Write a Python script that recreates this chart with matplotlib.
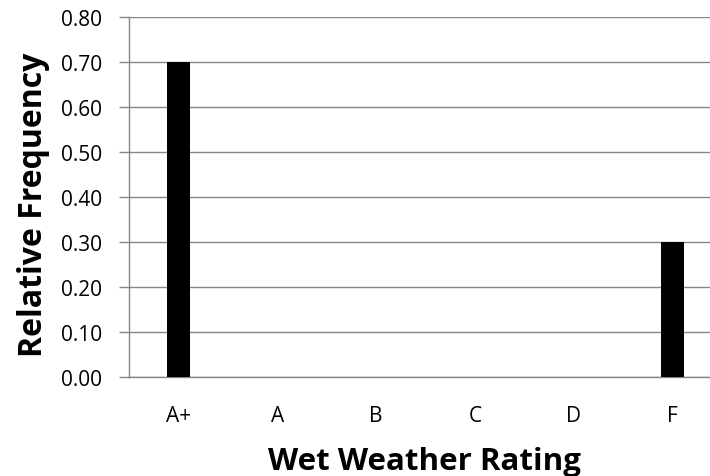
import matplotlib
matplotlib.use("Agg")
import matplotlib.pyplot as plt

categories = ["A+", "A", "B", "C", "D", "F"]
values = [0.70, 0.0, 0.0, 0.0, 0.0, 0.30]
yticks = [0.0, 0.1, 0.2, 0.3, 0.4, 0.5, 0.6, 0.7, 0.8]

plt.rcParams['font.family'] = ['Open Sans', 'DejaVu Sans']
fig = plt.figure(figsize=(7.10, 4.77), dpi=100)
ax = fig.add_axes([129/710, 1-378/477, 593/710, 360/477])

x = list(range(len(categories)))
ax.bar(x, values, width=0.24, color="black", zorder=3)
ax.set_xlim(-0.5, len(categories) - 0.5)
ax.set_ylim(0, 0.8)
ax.set_yticks(yticks)
ax.set_yticklabels([f"{v:.2f}" for v in yticks], fontsize=15)
ax.set_xticks(x)
ax.set_xticklabels(categories, fontsize=15)
ax.tick_params(axis='x', length=0, pad=20)
ax.tick_params(axis='y', length=7.2, color="#868686", width=1, pad=12)
ax.grid(axis='y', color="#868686", linewidth=1, zorder=0)
for s in ["top", "right"]:
    ax.spines[s].set_visible(False)
for s in ["left", "bottom"]:
    ax.spines[s].set_color("#868686")
    ax.spines[s].set_linewidth(1)

fig.text(34/710, 1-205/477, "Relative Frequency", rotation=90, ha="center", va="center",
         fontsize=23, fontweight="bold")
fig.text(424/710, 1-470/477, "Wet Weather Rating", ha="center", va="baseline",
         fontsize=22.5, fontweight="bold")

fig.savefig("out.png", dpi=100)
